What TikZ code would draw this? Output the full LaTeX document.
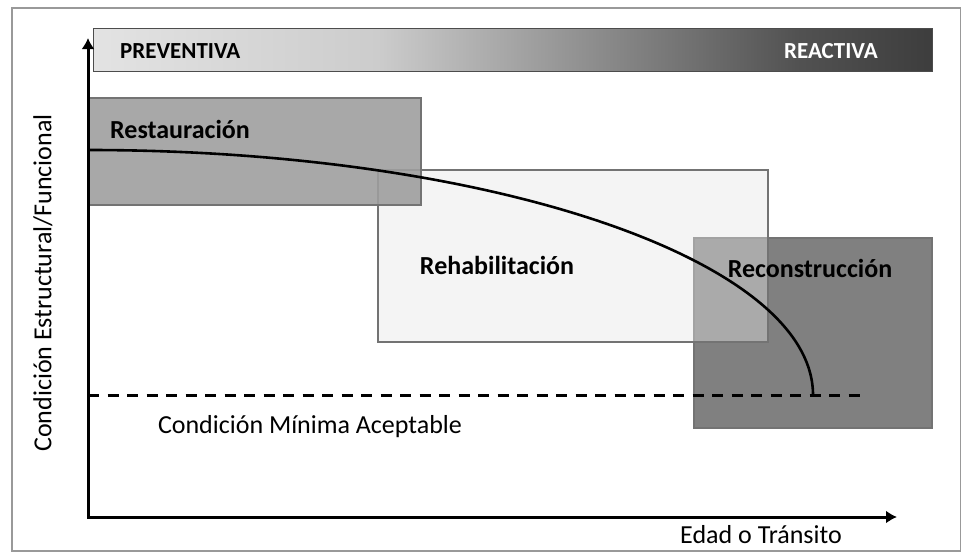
\documentclass[tikz,border=0pt]{standalone}
\usepackage{fontspec}
\setmainfont{Carlito}
\usetikzlibrary{positioning,arrows.meta}
\pgfdeclarehorizontalshading{barshade}{100bp}{color(0bp)=(black!11); color(25bp)=(black!11); color(42bp)=(black!20); color(55bp)=(black!45); color(67bp)=(black!68); color(75bp)=(black!76); color(100bp)=(black!76)}

\begin{document}
\begin{tikzpicture}[x=1pt,y=-1pt,
	zone/.style={draw=black!55, line width=1.2pt},
	zonetext/.style={inner sep=0pt, font=\fontsize{26}{30}\selectfont\bfseries},
	bartext/.style={inner sep=0pt, font=\fontsize{23}{27}\selectfont\bfseries},
	axtext/.style={inner sep=0pt, font=\fontsize{26}{30}\selectfont}]
	\useasboundingbox (0,0) rectangle (962,552);
	\draw[black!40, line width=1.2pt] (12,8) rectangle (960.5,551);
	
	% barra preventiva / reactiva
	\shade[shading=barshade, draw=black!70, line width=1pt] (93,28) rectangle (932,71);
	\node[bartext, anchor=west] (prev) at (120,51) {PREVENTIVA};
	\node[bartext, anchor=east, text=white] (reac) at (878,51) {REACTIVA};
	
	% zonas
	\draw[zone, fill=black!50] (694,238) rectangle (932,428);
	\draw[zone, fill=black!10, fill opacity=0.42] (378,170) rectangle (768,342);
	\draw[zone, fill=black!38, fill opacity=0.9] (88,98) rectangle (421,205);
	\node[zonetext, anchor=west] (rest) at (110,129) {Restauración};
	\node[zonetext] (rehab) at (497,265) {Rehabilitación};
	\node[zonetext] (recon) at (810,268) {Reconstrucción};
	
	% curva de deterioro
	\draw[line width=2.6pt] (88,150) arc[start angle=-90, end angle=0, x radius=725, y radius=245];
	
	% condicion minima
	\coordinate (minA) at (88,395);
	\coordinate (minB) at (868,395);
	\draw[line width=3pt, dash pattern=on 11pt off 8.5pt] (minA) -- (minB);
	\node[axtext] (minlbl) at (310,427) {Condición Mínima Aceptable};
	
	% ejes
	\coordinate (o) at (88,517);
	\coordinate (ytop) at (88,38);
	\coordinate (xend) at (897,517);
	\draw[line width=3pt, {Latex[length=11pt,width=13pt]}-{Latex[length=11pt,width=13pt]}] (ytop) -- (o) -- (xend);
	\node[axtext, below left=8pt and 55pt of xend] (xlbl) {Edad o Tránsito};
	\node[axtext, rotate=90] (ylbl) at (43,283) {Condición Estructural/Funcional};
\end{tikzpicture}
\end{document}
